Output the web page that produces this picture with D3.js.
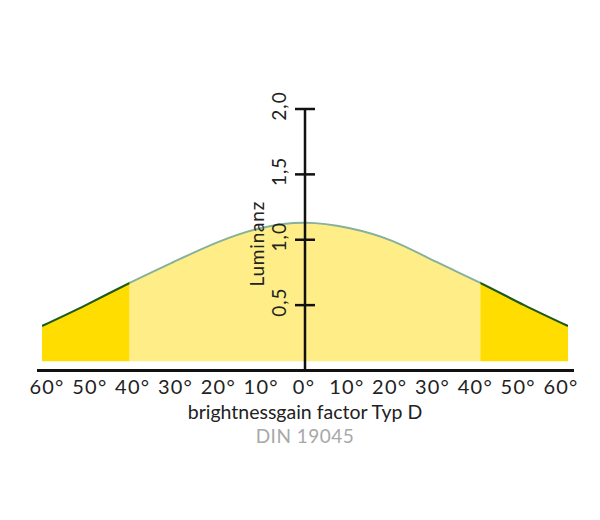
<!DOCTYPE html>
<html>
<head>
<meta charset="utf-8">
<script src="https://cdn.jsdelivr.net/npm/d3@7"></script>
<style>
  html, body { margin: 0; padding: 0; background: #fff; }
  svg { display: block; }
  text { font-family: Lato, "Open Sans", sans-serif; font-weight: 400; }
</style>
</head>
<body>
<svg id="chart" width="600" height="520"></svg>
<script>
// ---- data ----
const angles = [-60, -50, -40, -30, -20, -10, 0, 10, 20, 30, 40, 50, 60];
const luminance = [0.34, 0.50, 0.67, 0.83, 0.98, 1.09, 1.13, 1.09, 0.99, 0.83, 0.67, 0.50, 0.34];
const xTickLabels = ["60°", "50°", "40°", "30°", "20°", "10°", "0°", "10°", "20°", "30°", "40°", "50°", "60°"];
const yTickValues = [0.5, 1.0, 1.5, 2.0];
const yTickLabels = ["0,5", "1,0", "1,5", "2,0"];
const zoneEdges = [-60, -40, 40, 60];
const fillBase = 0.07;
const yTitle = "Luminanz";
const xTitle = "brightnessgain factor Typ D";
const subTitle = "DIN 19045";

// ---- scales ----
const svg = d3.select("#chart");
const x = d3.scaleLinear().domain([-60, 60]).range([42, 568]);
const y = d3.scaleLinear().domain([0, 2]).range([370.5, 109]);
const labelPos = d3.scalePoint().domain(d3.range(xTickLabels.length)).range([x(-60) + 5, x(60) - 7]);

const pts = angles.map((a, i) => ({ a, v: luminance[i] }));

const area = d3.area()
  .x(d => x(d.a)).y0(y(fillBase)).y1(d => y(d.v))
  .curve(d3.curveNatural);
const line = d3.line()
  .x(d => x(d.a)).y(d => y(d.v))
  .curve(d3.curveNatural);

// clip regions
const defs = svg.append("defs");
const zones = [
  { id: "zl", from: zoneEdges[0], to: zoneEdges[1], fill: "#FFDD00", stroke: "#1d5a1d", sw: 2.2 },
  { id: "zm", from: zoneEdges[1], to: zoneEdges[2], fill: "#FFEE88", stroke: "#86b19c", sw: 2 },
  { id: "zr", from: zoneEdges[2], to: zoneEdges[3], fill: "#FFDD00", stroke: "#1d5a1d", sw: 2.2 }
];
zones.forEach(z => {
  defs.append("clipPath").attr("id", z.id)
    .append("rect")
    .attr("x", x(z.from)).attr("y", 0)
    .attr("width", x(z.to) - x(z.from)).attr("height", 520);
});

zones.forEach(z => {
  svg.append("path").datum(pts)
    .attr("d", area).attr("fill", z.fill)
    .attr("clip-path", `url(#${z.id})`);
});
zones.forEach(z => {
  svg.append("path").datum(pts)
    .attr("d", line).attr("fill", "none")
    .attr("stroke", z.stroke).attr("stroke-width", z.sw)
    .attr("clip-path", `url(#${z.id})`);
});

// x axis baseline
svg.append("line")
  .attr("x1", x(-60) - 5).attr("x2", x(60) + 6)
  .attr("y1", y(0)).attr("y2", y(0))
  .attr("stroke", "#111").attr("stroke-width", 3);

// x tick labels
svg.append("g").selectAll("text").data(xTickLabels).join("text")
  .attr("x", (d, i) => labelPos(i))
  .attr("y", y(0) + 23)
  .attr("text-anchor", "middle")
  .attr("font-size", 20)
  .attr("letter-spacing", 1.2)
  .attr("fill", "#222")
  .text(d => d);

// y axis
const yAxis = d3.axisRight(y).tickValues(yTickValues).tickSize(0).tickFormat("");
const gy = svg.append("g").attr("transform", `translate(${x(0)},0)`).call(yAxis);
gy.select(".domain").remove();
svg.append("line")
  .attr("x1", x(0)).attr("x2", x(0))
  .attr("y1", y(0)).attr("y2", y(2))
  .attr("stroke", "#111").attr("stroke-width", 2.5);
svg.append("g").selectAll("line").data(yTickValues).join("line")
  .attr("x1", x(0) - 10).attr("x2", x(0) + 10)
  .attr("y1", d => y(d)).attr("y2", d => y(d))
  .attr("stroke", "#111").attr("stroke-width", 2.5);
svg.append("g").selectAll("text").data(yTickValues).join("text")
  .attr("transform", d => `translate(${x(0) - 19},${y(d) - 3}) rotate(-90)`)
  .attr("text-anchor", "middle")
  .attr("font-size", 19)
  .attr("letter-spacing", 1)
  .attr("fill", "#222")
  .text((d, i) => yTickLabels[i]);

// y title
svg.append("text")
  .attr("transform", `translate(${x(0) - 41},${y(1.0) + 4}) rotate(-90)`)
  .attr("text-anchor", "middle")
  .attr("font-size", 19)
  .attr("letter-spacing", 0.8)
  .attr("fill", "#222")
  .text(yTitle);

// x title
svg.append("text")
  .attr("x", x(0)).attr("y", y(0) + 48)
  .attr("text-anchor", "middle")
  .attr("font-size", 19.5)
  .attr("fill", "#222")
  .text(xTitle);
svg.append("text")
  .attr("x", x(0)).attr("y", y(0) + 72)
  .attr("text-anchor", "middle")
  .attr("font-size", 19)
  .attr("letter-spacing", 0.5)
  .attr("fill", "#a8a8a8")
  .text(subTitle);
</script>
</body>
</html>
